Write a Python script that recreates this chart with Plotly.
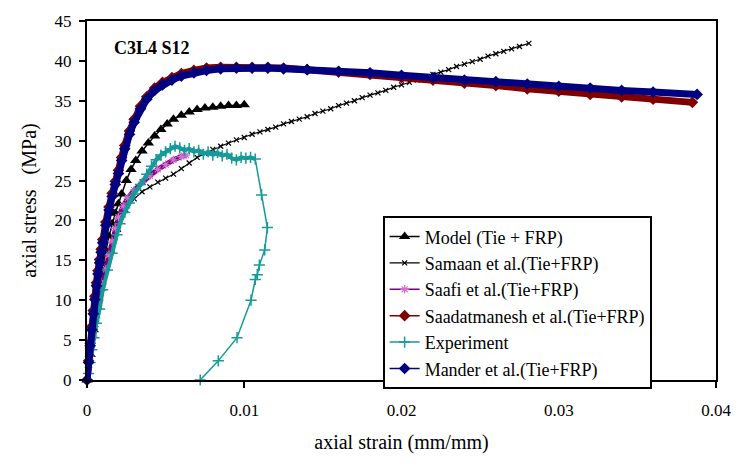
import plotly.graph_objects as go

# ---------------- data ----------------
model_x = [0, 0.0002, 0.0004, 0.0006, 0.0008, 0.001, 0.0012, 0.0014, 0.0016, 0.0018, 0.002,
           0.0022, 0.0025, 0.0028, 0.0031, 0.0035, 0.0039, 0.0043, 0.0047, 0.0051, 0.0055,
           0.006, 0.0065, 0.007, 0.0075, 0.008, 0.0085, 0.009, 0.0095, 0.01]
model_y = [0, 3.2, 6.3, 9.2, 11.8, 14.1, 16.2, 18.0, 19.6, 20.9, 22.1,
           23.3, 25.0, 26.4, 27.5, 28.7, 29.7, 30.6, 31.4, 32.1, 32.7,
           33.2, 33.6, 33.9, 34.1, 34.2, 34.3, 34.4, 34.4, 34.5]

samaan_x = [0, 0.0002, 0.0004, 0.0006, 0.0008, 0.001, 0.0013, 0.0016, 0.002, 0.0025, 0.003,
            0.0035, 0.004, 0.0045, 0.005, 0.0055, 0.006, 0.0065, 0.007, 0.0075, 0.008,
            0.0085, 0.009, 0.0095, 0.01, 0.0105, 0.011, 0.0115, 0.012, 0.0125, 0.013,
            0.0135, 0.014, 0.0145, 0.015, 0.0155, 0.016, 0.0165, 0.017, 0.0175, 0.018,
            0.0185, 0.019, 0.0195, 0.02, 0.0205, 0.021, 0.0215, 0.022, 0.0225, 0.023,
            0.0235, 0.024, 0.0245, 0.025, 0.0255, 0.026, 0.0265, 0.027, 0.0275, 0.0281]
samaan_y = [0, 2.9, 5.4, 7.6, 9.6, 11.5, 14.0, 16.3, 18.9, 21.3, 22.7,
            23.6, 24.2, 24.8, 25.3, 25.8, 26.5, 27.2, 27.9, 28.4, 28.9,
            29.3, 29.7, 30.1, 30.4, 30.8, 31.1, 31.4, 31.7, 32.1, 32.4,
            32.7, 33.0, 33.4, 33.7, 34.0, 34.4, 34.7, 35.0, 35.4, 35.7,
            36.0, 36.3, 36.7, 37.0, 37.3, 37.6, 38.0, 38.3, 38.6, 38.9,
            39.3, 39.6, 39.9, 40.2, 40.6, 40.9, 41.2, 41.5, 41.8, 42.2]

saafi_x = [0, 0.0001, 0.0002, 0.0003, 0.0004, 0.0005, 0.0006, 0.0008, 0.001, 0.0012, 0.0014,
           0.0016, 0.0018, 0.002, 0.0023, 0.0026, 0.003, 0.0035, 0.004, 0.0045, 0.005,
           0.0055, 0.006, 0.0063]
saafi_y = [0, 1.6, 3.0, 4.3, 5.5, 6.7, 7.8, 10.0, 12.0, 13.9, 15.7,
           17.4, 19.0, 20.4, 21.8, 22.8, 23.8, 24.8, 25.6, 26.4, 27.0,
           27.6, 28.0, 28.2]

saad_x = [0, 0.0001, 0.0002, 0.0003, 0.0004, 0.0005, 0.0006, 0.0007, 0.0008, 0.0009, 0.001,
          0.0012, 0.0014, 0.0016, 0.0018, 0.002, 0.0022, 0.0024, 0.0027, 0.003, 0.0034,
          0.0038, 0.0043, 0.0048, 0.0054, 0.006, 0.0068, 0.0076, 0.0085, 0.0095, 0.0105,
          0.0115, 0.0125, 0.014, 0.016, 0.018, 0.02, 0.022, 0.024, 0.026, 0.028,
          0.03, 0.032, 0.034, 0.036, 0.0385]
saad_y = [0, 2.4, 4.6, 6.7, 8.7, 10.5, 12.2, 13.7, 15.1, 16.4, 17.6,
          19.8, 21.7, 23.4, 24.9, 26.3, 27.9, 29.4, 31.2, 32.7, 34.3,
          35.5, 36.6, 37.3, 37.9, 38.4, 38.8, 39.1, 39.2, 39.2, 39.2,
          39.2, 39.1, 38.9, 38.6, 38.3, 37.9, 37.6, 37.2, 36.9, 36.5,
          36.2, 35.8, 35.5, 35.2, 34.8]

exp_x = [0, 0.0001, 0.0002, 0.0003, 0.00045, 0.0006, 0.0008, 0.001, 0.0013, 0.0016, 0.0019,
         0.0021, 0.0024, 0.0027, 0.003, 0.0034, 0.0038, 0.0041, 0.0044, 0.0047, 0.005,
         0.0053, 0.0056, 0.0059, 0.0062, 0.0065, 0.0068, 0.0071, 0.0074, 0.0077, 0.008,
         0.0083, 0.0086, 0.0089, 0.0092, 0.0095, 0.0098, 0.0101, 0.0104, 0.0107,
         0.0111, 0.01147, 0.0113, 0.01096, 0.01083, 0.0107, 0.01043, 0.00954, 0.00835, 0.0072]
exp_y = [0, 0.8, 2.2, 3.8, 5.3, 7.1, 8.9, 11.3, 13.8, 15.9, 18.2,
         19.6, 21.0, 22.2, 23.3, 24.5, 25.8, 26.8, 27.6, 28.2, 28.6,
         29.0, 29.3, 29.1, 28.8, 29.0, 28.6, 28.8, 28.3, 28.6, 28.2,
         28.5, 28.1, 28.3, 27.8, 27.6, 27.9, 27.8, 27.9, 27.7,
         23.2, 19.1, 16.3, 14.4, 13.2, 12.6, 10.0, 5.3, 2.4, 0.0]

mander_x = [0, 0.0001, 0.0002, 0.0003, 0.0004, 0.0005, 0.0006, 0.0007, 0.0008, 0.0009, 0.001,
            0.0012, 0.0014, 0.0016, 0.0018, 0.002, 0.0022, 0.0024, 0.0027, 0.003, 0.0034,
            0.0038, 0.0043, 0.0048, 0.0054, 0.006, 0.0068, 0.0076, 0.0085, 0.0095, 0.0105,
            0.0115, 0.0125, 0.014, 0.016, 0.018, 0.02, 0.022, 0.024, 0.026, 0.028,
            0.03, 0.032, 0.034, 0.036, 0.0388]
mander_y = [0, 2.2, 4.3, 6.3, 8.3, 10.1, 11.8, 13.3, 14.7, 16.0, 17.2,
            19.4, 21.3, 23.0, 24.5, 25.9, 27.5, 29.0, 30.8, 32.3, 34.0,
            35.2, 36.3, 37.0, 37.6, 38.1, 38.5, 38.8, 39.0, 39.1, 39.1,
            39.1, 39.0, 38.9, 38.7, 38.5, 38.2, 37.9, 37.6, 37.4, 37.1,
            36.8, 36.6, 36.3, 36.1, 35.8]

x_ticks = [0, 0.01, 0.02, 0.03, 0.04]
x_tick_labels = ["0", "0.01", "0.02", "0.03", "0.04"]
y_ticks = [0, 5, 10, 15, 20, 25, 30, 35, 40, 45]

SERIF = "Liberation Serif"

fig = go.Figure()

fig.add_trace(go.Scatter(x=model_x, y=model_y, mode="lines+markers", name="Model (Tie + FRP)",
                         line=dict(color="black", width=1.5),
                         marker=dict(symbol="triangle-up", size=10, color="black"),
                         cliponaxis=False))
fig.add_trace(go.Scatter(x=samaan_x, y=samaan_y, mode="lines+markers", name="Samaan et al.(Tie+FRP)",
                         line=dict(color="black", width=1.2),
                         marker=dict(symbol="x-thin", size=5, color="black",
                                     line=dict(color="black", width=1.2)),
                         cliponaxis=False))
fig.add_trace(go.Scatter(x=saafi_x, y=saafi_y, mode="lines", showlegend=False,
                         line=dict(color="#800080", width=5), hoverinfo="skip", cliponaxis=False))
fig.add_trace(go.Scatter(x=saafi_x, y=saafi_y, mode="lines+markers", name="Saafi et al.(Tie+FRP)",
                         line=dict(color="#800080", width=1.5),
                         marker=dict(symbol="asterisk", size=7, color="#800080",
                                     line=dict(color="#d070d0", width=1.2)),
                         cliponaxis=False))
fig.add_trace(go.Scatter(x=saad_x, y=saad_y, mode="lines", showlegend=False,
                         line=dict(color="#800000", width=7), hoverinfo="skip", cliponaxis=False))
fig.add_trace(go.Scatter(x=saad_x, y=saad_y, mode="lines+markers", name="Saadatmanesh et al.(Tie+FRP)",
                         line=dict(color="#800000", width=1.5),
                         marker=dict(symbol="diamond", size=9, color="#800000"),
                         cliponaxis=False))
fig.add_trace(go.Scatter(x=exp_x[:40], y=exp_y[:40], mode="lines", showlegend=False,
                         line=dict(color="#169a9a", width=4), hoverinfo="skip", cliponaxis=False))
fig.add_trace(go.Scatter(x=exp_x, y=exp_y, mode="lines+markers", name="Experiment",
                         line=dict(color="#169a9a", width=1.5),
                         marker=dict(symbol="cross-thin", size=8, color="#169a9a",
                                     line=dict(color="#169a9a", width=1.5)),
                         cliponaxis=False))
fig.add_trace(go.Scatter(x=mander_x, y=mander_y, mode="lines", showlegend=False,
                         line=dict(color="#000080", width=7), hoverinfo="skip", cliponaxis=False))
fig.add_trace(go.Scatter(x=mander_x, y=mander_y, mode="lines+markers", name="Mander et al.(Tie+FRP)",
                         line=dict(color="#000080", width=1.5),
                         marker=dict(symbol="diamond", size=9, color="#000080"),
                         cliponaxis=False))

fig.add_annotation(text="<b>C3L4 S12</b>", xref="paper", yref="paper", x=0.04, y=0.925,
                   xanchor="left", yanchor="middle", showarrow=False,
                   font=dict(family=SERIF, size=18, color="black"))

fig.update_layout(
    width=748, height=466,
    margin=dict(l=87, r=32, t=12, b=86),
    paper_bgcolor="white", plot_bgcolor="white",
    showlegend=True,
    legend=dict(x=0.47, y=0.456, xanchor="left", yanchor="top",
                bgcolor="white", bordercolor="black", borderwidth=2,
                font=dict(family=SERIF, size=18, color="black")),
    xaxis=dict(range=[0, 0.04], tickvals=x_ticks, ticktext=x_tick_labels,
               showgrid=False, zeroline=False, showline=True, linecolor="black",
               linewidth=2, mirror=True, ticks="outside", ticklen=6, tickwidth=2,
               tickcolor="black", ticklabelstandoff=8,
               tickfont=dict(family=SERIF, size=17, color="black"),
               title=dict(text="axial strain (mm/mm)", standoff=16,
                          font=dict(family=SERIF, size=20, color="black"))),
    yaxis=dict(range=[0, 45], tickvals=y_ticks,
               showgrid=False, zeroline=False, showline=True, linecolor="black",
               linewidth=2, mirror=True, ticks="outside", ticklen=6, tickwidth=2,
               tickcolor="black", ticklabelstandoff=4,
               tickfont=dict(family=SERIF, size=17, color="black"),
               title=dict(text="axial stress\u00a0\u00a0\u00a0(MPa)", standoff=13,
                          font=dict(family=SERIF, size=20, color="black"))),
)

fig.write_html("out.html")
